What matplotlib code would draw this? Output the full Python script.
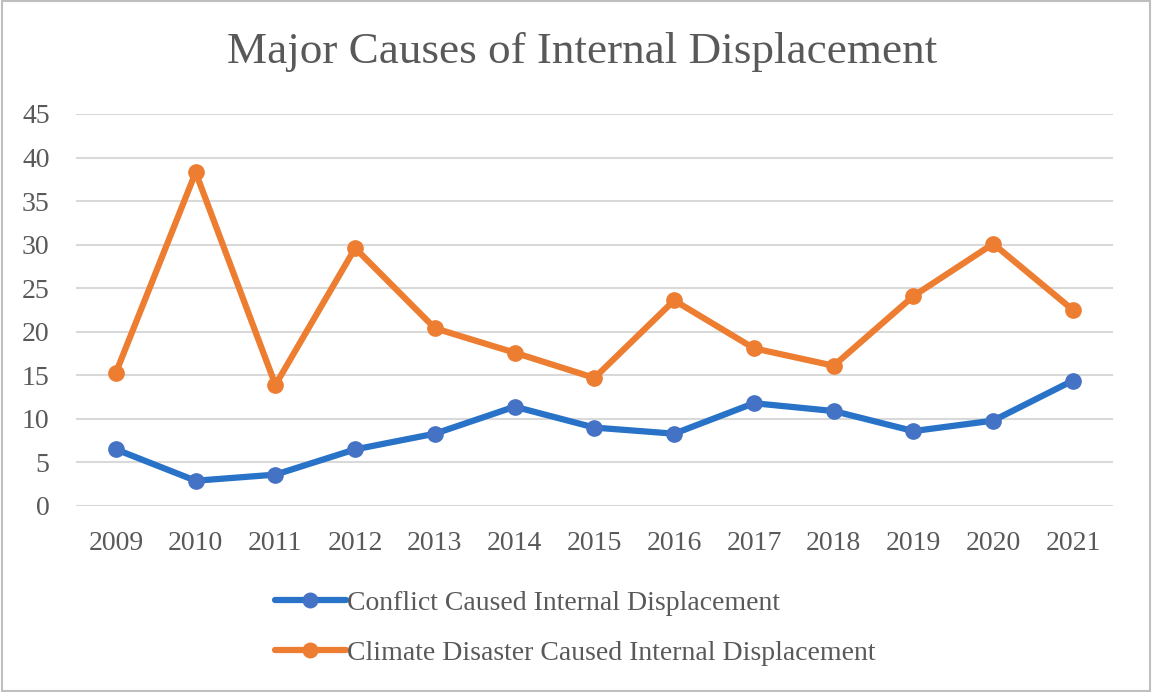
import matplotlib.pyplot as plt
from matplotlib.patches import Rectangle

years = ["2009", "2010", "2011", "2012", "2013", "2014", "2015",
         "2016", "2017", "2018", "2019", "2020", "2021"]
conflict = [6.5, 2.9, 3.6, 6.5, 8.3, 11.4, 9.0, 8.3, 11.8, 10.9, 8.6, 9.8, 14.4]
climate = [15.3, 38.3, 13.9, 29.6, 20.4, 17.6, 14.7, 23.6, 18.1, 16.1, 24.1, 30.1, 22.5]
yticks = [0, 5, 10, 15, 20, 25, 30, 35, 40, 45]

plt.rcParams['font.family'] = ['Liberation Serif', 'DejaVu Serif']
grey = "#595959"

fig = plt.figure(figsize=(11.52, 6.92), dpi=100)
ax = fig.add_axes([0.066, 0.2688, 0.9, 0.5665])

x = list(range(len(years)))
l1, = ax.plot(x, conflict, color="#2872C8", lw=4.5, marker="o", ms=11,
              mfc="#4472C4", mec="#4472C4", solid_capstyle="round")
l2, = ax.plot(x, climate, color="#ED7D31", lw=4.5, marker="o", ms=11,
              mfc="#ED7D31", mec="#ED7D31", solid_capstyle="round")

ax.set_xlim(-0.5, len(years) - 0.5)
ax.set_ylim(0, 45)
ax.set_xticks(x)
ax.set_xticklabels(years)
ax.set_yticks(yticks)
ax.tick_params(axis="both", length=0, labelsize=20, colors=grey)
ax.tick_params(axis="x", pad=18)
ax.tick_params(axis="y", pad=19)
ax.grid(axis="y", color="#d9d9d9", lw=1.5)
ax.set_axisbelow(True)
for s in ax.spines.values():
    s.set_visible(False)

fig.text(0.505, 0.925, "Major Causes of Internal Displacement", ha="center",
         va="center", fontsize=32.5, color=grey)

fig.legend([l1, l2], ["Conflict Caused Internal Displacement",
                      "Climate Disaster Caused Internal Displacement"],
           loc="upper left", bbox_to_anchor=(0.217, 0.183), frameon=False,
           fontsize=20, labelcolor=grey, handlelength=2.55, handletextpad=0.05,
           labelspacing=0.88, markerscale=0.95)

fig.patches.append(Rectangle((0.002, 0.002), 0.996, 0.996, transform=fig.transFigure,
                             fill=False, edgecolor="#bfbfbf", lw=1.5))

fig.savefig("out.png", dpi=100)
